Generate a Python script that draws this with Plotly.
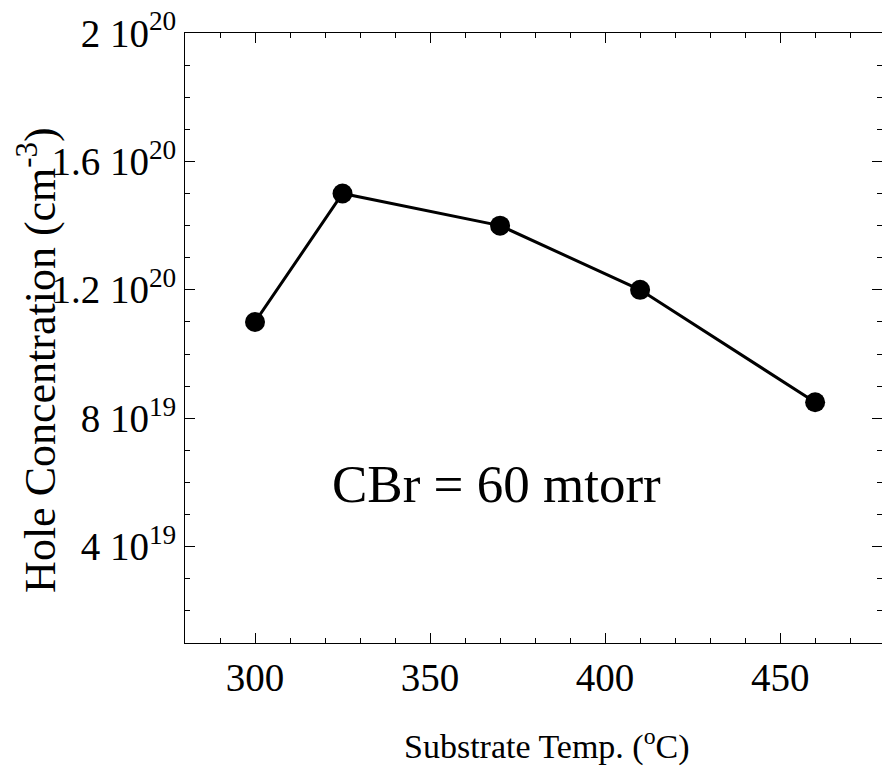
import plotly.graph_objects as go

# Data
temps = [300, 325, 370, 410, 460]
hole_conc = [1.1e20, 1.5e20, 1.4e20, 1.2e20, 8.5e19]

x_tickvals = [300, 350, 400, 450]
x_ticktext = ["300", "350", "400", "450"]
y_tickvals = [4e19, 8e19, 1.2e20, 1.6e20, 2e20]
y_ticktext = ["4 10<sup>19</sup>", "8 10<sup>19</sup>", "1.2 10<sup>20</sup>",
              "1.6 10<sup>20</sup>", "2 10<sup>20</sup>"]

FONT = "Liberation Serif, Times New Roman, serif"

fig = go.Figure()
fig.add_trace(go.Scatter(
    x=temps, y=hole_conc, mode="lines+markers",
    line=dict(color="black", width=3),
    marker=dict(color="black", size=20),
    showlegend=False,
))

fig.add_annotation(
    x=369, y=5.95e19, text="CBr = 60 mtorr", showarrow=False,
    font=dict(family=FONT, size=53, color="black"),
)

# axis titles as paper-anchored annotations
fig.add_annotation(
    xref="paper", yref="paper", x=0.519, y=-0.167,
    xanchor="center", yanchor="middle",
    text="Substrate Temp. (<sup>o</sup>C)", showarrow=False,
    font=dict(family=FONT, size=34, color="black"),
)
fig.add_annotation(
    xref="paper", yref="paper", x=-0.211, y=0.464, textangle=-90,
    xanchor="center", yanchor="middle",
    text="Hole Concentration (cm<sup>-3</sup>)", showarrow=False,
    font=dict(family=FONT, size=44, color="black"),
)

axis_common = dict(
    showline=True, linecolor="black", linewidth=1, mirror="ticks",
    ticks="inside", ticklen=10, tickwidth=1, tickcolor="black",
    showgrid=False, zeroline=False,
    tickfont=dict(family=FONT, size=39, color="black"),
)

fig.update_xaxes(
    range=[280, 479.1], tickmode="array", tickvals=x_tickvals, ticktext=x_ticktext,
    minor=dict(dtick=10, tick0=0, ticks="inside", ticklen=5, tickcolor="black", showgrid=False),
    **axis_common,
)
fig.update_yaxes(
    range=[1e19, 2e20], tickmode="array", tickvals=y_tickvals, ticktext=y_ticktext,
    minor=dict(dtick=1e19, tick0=0, ticks="inside", ticklen=5, tickcolor="black", showgrid=False),
    **axis_common,
)

fig.update_layout(
    width=882, height=776,
    margin=dict(l=185, r=0, t=33, b=133, autoexpand=False),
    plot_bgcolor="white", paper_bgcolor="white",
)

fig.write_html("out.html")
